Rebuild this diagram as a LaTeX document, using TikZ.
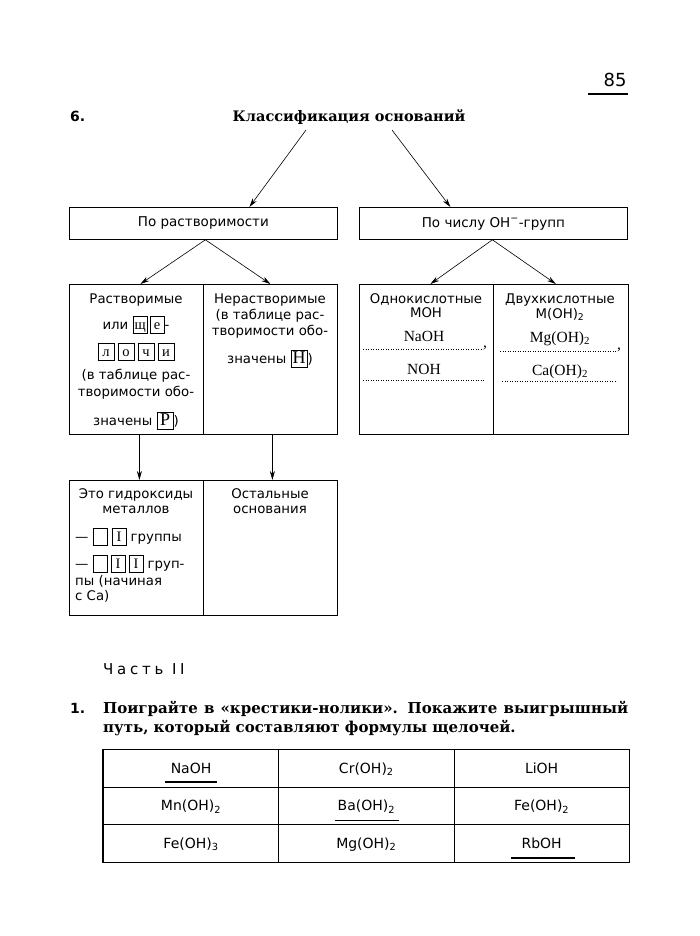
\documentclass[tikz,border=0pt]{standalone}
\usepackage{fontspec}
\setmainfont{DejaVu Sans}
\newfontfamily\srf{DejaVu Serif}
\newfontfamily\hand{Liberation Serif}
\usetikzlibrary{arrows.meta,calc}
\newcommand\lbx[2][15pt]{{\setlength\fboxsep{0pt}\setlength\fboxrule{0.8pt}\framebox[#1]{\rule[-3.5pt]{0pt}{16pt}\hand\fontsize{14.5}{14}\selectfont #2}}}
\tikzset{
  bx/.style={draw, line width=0.8pt, inner sep=0pt},
  tx/.style={inner sep=0pt, anchor=base, font=\fontsize{13.3}{14}\selectfont},
  hw/.style={inner sep=0pt, anchor=base, font=\hand\fontsize{15.5}{16}\selectfont},
  arr/.style={line width=0.6pt, -{Stealth[length=9pt,width=5pt]}},
  fillline/.style={line width=0.5pt, dotted},
  cell/.style={draw, line width=0.8pt, minimum width=175.3pt, minimum height=37.7pt, anchor=north west, inner sep=0pt, text height=10pt, text depth=0pt, font=\fontsize{14}{14}\selectfont},
  uline/.style={line width=1.6pt}
}
\begin{document}
\begin{tikzpicture}[x=1pt,y=-1pt]
\useasboundingbox[fill=white] (0,0) rectangle (700,936);

% page number
\node[inner sep=0pt, font=\fontsize{18}{18}\selectfont] (pg) at (615,80) {85};
\coordinate (pgl) at (588,94);
\coordinate (pgr) at (628,94);
\draw[line width=1.6pt] (pgl) -- (pgr);

% title
\node[inner sep=0pt, anchor=base west, font=\bfseries\fontsize{14}{14}\selectfont] (n6) at (70,122) {6.};
\node[inner sep=0pt, anchor=base, font=\srf\bfseries\fontsize{14.5}{15}\selectfont] (title) at (349,122) {Классификация оснований};

% row 1
\node[bx, minimum width=268pt, minimum height=32pt, anchor=north west, font=\fontsize{13.5}{14}\selectfont] (b1) at (69,207) {По растворимости};
\node[bx, minimum width=268pt, minimum height=32pt, anchor=north west, font=\fontsize{13.5}{14}\selectfont] (b2) at (359,207) {По числу ОН\textsuperscript{−}-групп};

\coordinate (tl) at (306,130);
\coordinate (tr) at (392,130);
\draw[arr] (tl) -- ($(b1.north)+(46,0)$);
\draw[arr] (tr) -- ($(b2.north)+(-43,0)$);

% row 2
\node[bx, minimum width=134pt, minimum height=150pt, anchor=north west] (sol) at (69,284) {};
\node[bx, minimum width=134pt, minimum height=150pt, anchor=north west] (insol) at (203,284) {};
\node[bx, minimum width=134pt, minimum height=150pt, anchor=north west] (one) at (359,284) {};
\node[bx, minimum width=135pt, minimum height=150pt, anchor=north west] (two) at (493,284) {};

\draw[arr] ($(b1.south)+(2,0)$) -- ($(sol.north)+(4,0)$);
\draw[arr] ($(b1.south)+(2,0)$) -- (insol.north);
\draw[arr] ($(b2.south)+(-1,0)$) -- ($(one.north)+(4,0)$);
\draw[arr] ($(b2.south)+(-1,0)$) -- ($(two.north)+(-5,0)$);

% soluble
\node[tx] (s1) at (136,303) {Растворимые};
\node[tx] (s2) at (136,329) {или \lbx{щ}\kern2pt\lbx{е}-};
\node[tx] (s3) at (136,356) {\lbx[17pt]{л}\kern3pt\lbx[17pt]{о}\kern3pt\lbx[17pt]{ч}\kern3pt\lbx[17pt]{и}};
\node[tx] (s4) at (136,379) {(в таблице рас-};
\node[tx] (s5) at (136,396) {творимости обо-};
\node[tx] (s6) at (136,425) {значены \lbx[17pt]{\fontsize{18}{18}\selectfont Р})};

% insoluble
\node[tx] (i1) at (270,303) {Нерастворимые};
\node[tx] (i2) at (270,319) {(в таблице рас-};
\node[tx] (i3) at (270,335) {творимости обо-};
\node[tx] (i4) at (270,363) {значены \lbx[17pt]{\fontsize{18}{18}\selectfont Н})};

% monoacid
\node[tx] (m1) at (426,303) {Однокислотные};
\node[tx] (m2) at (426,317) {МОН};
\node[hw] (m3) at (424,341) {NaOH};
\coordinate (d1a) at (363,349);
\coordinate (d1b) at (483,349);
\draw[fillline] (d1a) -- (d1b);
\node[hw, anchor=base west] (m3c) at (483,347) {,};
\node[hw] (m4) at (424,374) {NOH};
\coordinate (d2a) at (363,380);
\coordinate (d2b) at (484,380);
\draw[fillline] (d2a) -- (d2b);

% diacid
\node[tx] (d1) at (560,303) {Двухкислотные};
\node[tx] (d2) at (560,318) {М(ОН)\textsubscript{2}};
\node[hw] (d3) at (560,342) {Mg(OH)\textsubscript{2}};
\coordinate (e1a) at (500,351);
\coordinate (e1b) at (617,351);
\draw[fillline] (e1a) -- (e1b);
\node[hw, anchor=base west] (d3c) at (617,349) {,};
\node[hw] (d4) at (560,375) {Ca(OH)\textsubscript{2}};
\coordinate (e2a) at (502,381);
\coordinate (e2b) at (617,381);
\draw[fillline] (e2a) -- (e2b);

% row 3
\node[bx, minimum width=134pt, minimum height=135pt, anchor=north west] (ed1) at (69,480) {};
\node[bx, minimum width=134pt, minimum height=135pt, anchor=north west] (ed2) at (203,480) {};
\draw[arr] ($(sol.south)+(3,0)$) -- ($(ed1.north)+(3,0)$);
\draw[arr] ($(insol.south)+(2,0)$) -- ($(ed2.north)+(2,0)$);

\node[tx] (a1) at (136,498) {Это гидроксиды};
\node[tx] (a2) at (136,513) {металлов};
\node[tx, anchor=base west] (a3) at (75,541) {—\kern4pt\lbx{\phantom{I}}\kern4pt\lbx{I} группы};
\node[tx, anchor=base west] (a4) at (75,568) {—\kern4pt\lbx{\phantom{I}}\kern3pt\lbx{I}\kern3pt\lbx{I} груп-};
\node[tx, anchor=base west] (a5) at (75,585) {пы (начиная};
\node[tx, anchor=base west] (a6) at (75,600) {с Са)};

\node[tx] (o1) at (270,498) {Остальные};
\node[tx] (o2) at (270,513) {основания};

% part II
\node[inner sep=0pt, anchor=base west, font=\fontsize{15}{16}\selectfont\addfontfeature{LetterSpace=25}] (part) at (103,674) {Часть II};
\node[inner sep=0pt, anchor=base west, font=\bfseries\fontsize{14}{14}\selectfont] (n1) at (70,713) {1.};
\node[inner sep=0pt, anchor=base west, font=\srf\bfseries\fontsize{15}{15}\selectfont] (q1) at (103,713) {\makebox[525pt][s]{Поиграйте в «крестики-нолики». Покажите выигрышный}};
\node[inner sep=0pt, anchor=base west, font=\srf\bfseries\fontsize{15}{15}\selectfont] (q2) at (103,732) {путь, который составляют формулы щелочей.};

% table
\node[cell] (c11) at (103,749) {NaOH};
\node[cell] (c12) at (278.3,749) {Cr(OH)\textsubscript{2}};
\node[cell] (c13) at (453.6,749) {LiOH};
\node[cell] (c21) at (103,786.7) {Mn(OH)\textsubscript{2}};
\node[cell] (c22) at (278.3,786.7) {Ba(OH)\textsubscript{2}};
\node[cell] (c23) at (453.6,786.7) {Fe(OH)\textsubscript{2}};
\node[cell] (c31) at (103,824.4) {Fe(OH)\textsubscript{3}};
\node[cell] (c32) at (278.3,824.4) {Mg(OH)\textsubscript{2}};
\node[cell] (c33) at (453.6,824.4) {RbOH};
\draw[line width=2.4pt] (c11.north west) -- (c31.south west);
\draw[uline] ($(c11.center)+(-26,13.5)$) -- ($(c11.center)+(26,13.5)$);
\draw[uline] ($(c22.center)+(-31,14.5)$) -- ($(c22.center)+(33,14.5)$);
\draw[uline] ($(c33.center)+(-31,14.5)$) -- ($(c33.center)+(33,14.5)$);
\end{tikzpicture}
\end{document}
